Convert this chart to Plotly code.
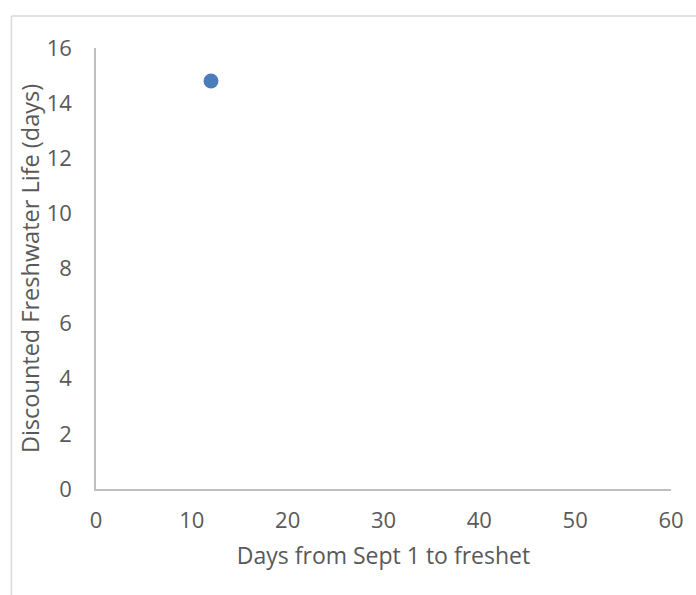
import plotly.graph_objects as go

# Scatter data
days_to_freshet = [12]
discounted_life = [14.8]

x_ticks = [0, 10, 20, 30, 40, 50, 60]
y_ticks = [0, 2, 4, 6, 8, 10, 12, 14, 16]

W, H = 696, 595
ml, mr, mt, mb = 96, 22, 48, 106
pw, ph = W - ml - mr, H - mt - mb

fig = go.Figure(
    go.Scatter(
        x=days_to_freshet,
        y=discounted_life,
        mode="markers",
        marker=dict(size=15, color="#4a7ebb", line=dict(width=0)),
        showlegend=False,
    )
)

font_main = "Open Sans, Liberation Sans, sans-serif"
tick_color = "#595959"
axis_color = "#bfbfbf"

fig.update_layout(
    width=W,
    height=H,
    margin=dict(l=ml, r=mr, t=mt, b=mb),
    paper_bgcolor="white",
    plot_bgcolor="white",
    font=dict(family=font_main, color=tick_color),
)

fig.update_xaxes(
    range=[0, 60],
    tickvals=x_ticks,
    ticktext=[str(v) for v in x_ticks],
    showgrid=False,
    zeroline=False,
    showline=True,
    linecolor=axis_color,
    linewidth=1.5,
    ticks="",
    ticklabelstandoff=11,
    tickfont=dict(size=22, color=tick_color),
    title=dict(text="Days from Sept 1 to freshet", font=dict(size=23, color=tick_color), standoff=15),
)
fig.update_yaxes(
    range=[0, 16],
    tickvals=y_ticks,
    ticktext=[str(v) for v in y_ticks],
    showgrid=False,
    zeroline=False,
    showline=True,
    linecolor=axis_color,
    linewidth=1.5,
    ticks="",
    ticklabelstandoff=18,
    tickfont=dict(size=22, color=tick_color),
    title=dict(text="Discounted Freshwater Life (days)", font=dict(size=23.5, color=tick_color), standoff=0),
)

# Chart-area border (left and top edges)
bx = (11 - ml) / pw
by = (H - mb - 16) / ph
fig.add_shape(type="line", xref="paper", yref="paper", x0=bx, x1=bx, y0=by, y1=-(mb + 5) / ph,
              line=dict(color="#d9d9d9", width=1.5))
fig.add_shape(type="line", xref="paper", yref="paper", x0=bx, x1=(W - ml + 5) / pw, y0=by, y1=by,
              line=dict(color="#d9d9d9", width=1.5))

fig.write_html("out.html")
